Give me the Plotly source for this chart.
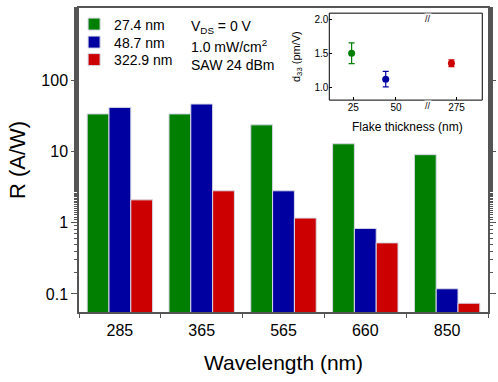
import plotly.graph_objects as go

wavelengths = ["285", "365", "565", "660", "850"]
series_names = ["27.4 nm", "48.7 nm", "322.9 nm"]
r_27 = [33.6, 33.6, 23.6, 12.8, 9.0]
r_48 = [41.5, 46.3, 2.8, 0.83, 0.118]
r_322 = [2.09, 2.8, 1.16, 0.52, 0.074]
colors = ["#007f00", "#0000a0", "#cc0000"]

# inset data (as plotted)
thick_pos = [24.0, 44.0, 272.0]
d33 = [1.505, 1.12, 1.357]
d33_err = [0.155, 0.115, 0.05]

FONT = "Liberation Sans, Arial, sans-serif"
legend_ids = ["legend", "legend2", "legend3"]
fig = go.Figure()
for name, vals, c, lg in zip(series_names, [r_27, r_48, r_322], colors, legend_ids):
    fig.add_trace(go.Bar(x=wavelengths, y=vals, name=name, legend=lg,
                         marker=dict(color=c, line=dict(color="#d8d8e8", width=1))))

# inset points
for i, c in enumerate(colors):
    xa = "x2" if thick_pos[i] < 100 else "x3"
    fig.add_trace(go.Scatter(x=[thick_pos[i]], y=[d33[i]], xaxis=xa, yaxis="y2", mode="markers",
                             marker=dict(color=c, size=7),
                             error_y=dict(type="data", array=[d33_err[i]], color=c, thickness=1.2, width=3),
                             showlegend=False))

ax_gray = "#555555"
legend_rows = [24.5, 42.5, 60]
leg_common = dict(xanchor="left", yanchor="middle", bgcolor="rgba(0,0,0,0)", font=dict(size=14),
                  itemwidth=30)
legends = {}
for lg, yp in zip(legend_ids, legend_rows):
    legends[lg] = dict(x=-0.012, y=(312 - yp) / 304, **leg_common)

fig.update_layout(
    width=498, height=382,
    margin=dict(l=79, r=10, t=8, b=70, autoexpand=False),
    paper_bgcolor="white", plot_bgcolor="white",
    font=dict(family=FONT, color="black", size=16),
    barmode="group", bargap=0.2, bargroupgap=0,
    showlegend=True,
    xaxis=dict(type="category", range=[-0.5, 4.5], showline=True, linecolor=ax_gray, linewidth=1.5,
               mirror=True, ticks="outside", tickson="boundaries", ticklen=4, tickcolor=ax_gray,
               title=dict(text="Wavelength (nm)", font=dict(size=21), standoff=17),
               tickfont=dict(size=16), ticklabelstandoff=3, showgrid=False, automargin=False),
    yaxis=dict(type="log", range=[-1.254, 3.013], showline=True, linecolor=ax_gray, linewidth=1.5,
               mirror="ticks", ticks="outside", ticklen=6, tickcolor=ax_gray,
               tickvals=[0.1, 1, 10, 100], ticktext=["0.1", "1", "10", "100"],
               minor=dict(ticks="outside", ticklen=3, tickcolor=ax_gray, showgrid=False),
               title=dict(text="R (A/W)", font=dict(size=22), standoff=10),
               tickfont=dict(size=16), showgrid=False, zeroline=False, automargin=False),
    xaxis2=dict(domain=[0.612, 0.862], range=[10.9, 70.9], anchor="y2", tickvals=[25, 50],
                ticks="inside", ticklen=3, tickcolor="black", tickfont=dict(size=10), showgrid=False,
                zeroline=False, showline=False, automargin=False),
    xaxis3=dict(domain=[0.862, 0.986], range=[260.4, 290], anchor="y2", tickvals=[275],
                ticks="inside", ticklen=3, tickcolor="black", tickfont=dict(size=10), showgrid=False,
                zeroline=False, showline=False, automargin=False),
    yaxis2=dict(domain=[0.697, 0.983], range=[0.81, 2.1], anchor="x2", tickvals=[1.0, 1.5, 2.0],
                ticktext=["1.0", "1.5", "2.0"], ticks="inside", ticklen=3, tickcolor="black",
                tickfont=dict(size=10), showgrid=False, zeroline=False, showline=False, automargin=False,
                title=dict(text="d<sub>33</sub> (pm/V)", font=dict(size=11), standoff=11)),
    **legends,
)

# inset frame
fig.add_shape(type="rect", xref="paper", yref="paper", x0=0.612, x1=0.986, y0=0.697, y1=0.983,
              line=dict(color="black", width=1), fillcolor="rgba(0,0,0,0)")
for yy in [0.697, 0.983]:
    fig.add_annotation(x=0.862, y=yy, xref="paper", yref="paper", text="//", showarrow=False,
                       font=dict(size=9, color="black"), bgcolor="white", borderpad=0)

fig.add_annotation(x=0.804, y=0.609, xref="paper", yref="paper", text="Flake thickness (nm)",
                   showarrow=False, font=dict(size=12), xanchor="center", yanchor="middle")

texts = ["V<sub>DS</sub> = 0 V", "1.0 mW/cm<sup>2</sup>", "SAW 24 dBm"]
ys = [27, 46, 65]
for t, yp in zip(texts, ys):
    fig.add_annotation(x=(189 - 79) / 409, y=(312 - yp) / 304, xref="paper", yref="paper", text=t,
                       showarrow=False, font=dict(size=14), xanchor="left", yanchor="middle")

fig.write_html("out.html", config={"displayModeBar": False},
               post_script="document.body.style.margin='0';document.body.style.overflow='hidden';")
